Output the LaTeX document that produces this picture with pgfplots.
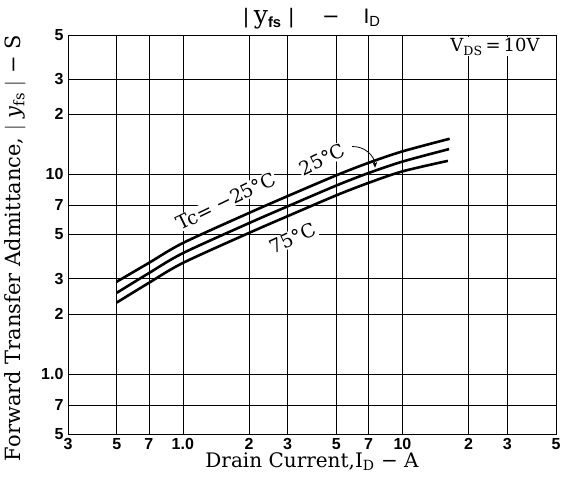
\documentclass[border=0pt]{standalone}
\usepackage{fontspec}
\setmainfont{DejaVu Serif}
\newfontfamily\tickfont{Liberation Sans}
\usepackage{pgfplots}
\pgfplotsset{compat=1.18}
\usetikzlibrary{arrows.meta}
\begin{document}
\begin{tikzpicture}
\useasboundingbox (0,0) rectangle (561pt,491pt);
\begin{axis}[
  at={(68pt,57pt)}, anchor=south west,
  scale only axis, width=488pt, height=399pt,
  xmode=log, ymode=log,
  xmin=0.3, xmax=50, ymin=0.5, ymax=50,
  xtick={0.3,0.5,0.7,1,2,3,5,7,10,20,30,50},
  xticklabels={3,5,7,1.0,2,3,5,7,10,2,3,5},
  ytick={0.5,0.7,1,2,3,5,7,10,20,30,50},
  yticklabels={5,7,1.0,2,3,5,7,10,2,3,5},
  major tick length=0pt,
  grid=major,
  major grid style={black, line width=0.6pt},
  axis line style={black, line width=0.8pt},
  ticklabel style={font=\tickfont\bfseries\fontsize{16}{16}\selectfont},
  xticklabel style={yshift=-1pt},
  yticklabel style={xshift=-1pt},
  xlabel={Drain Current,I\textsubscript{D} − A},
  xlabel style={font=\fontsize{20}{20}\selectfont, at={(axis description cs:0.5,0)}, anchor=center, yshift=-28pt},
  ylabel={Forward Transfer Admittance, $|$ \textit{y}\textsubscript{fs} $|$ − S},
  ylabel style={font=\fontsize{21}{21}\selectfont, at={(axis description cs:-0.1086,0.466)}, anchor=center},
  clip=false,
]
\node[fill=white, inner sep=1pt, rotate=26, font=\fontsize{19}{19}\selectfont] at (axis cs:1.57,7.35) {Tc= −25°C};
\node[fill=white, inner sep=1pt, rotate=26, font=\fontsize{19}{19}\selectfont] at (axis cs:4.3,11.9) {25°C};
\node[fill=white, inner sep=1pt, rotate=25, font=\fontsize{19}{19}\selectfont] at (axis cs:3.17,4.80) {75°C};
\node[fill=white, inner sep=1pt, font=\fontsize{18}{18}\selectfont] at (rel axis cs:0.875,0.970) {V\textsubscript{DS}\,=\,10V};
\node[font=\fontsize{21}{21}\selectfont, anchor=center] at (rel axis cs:0.5,1) [yshift=16pt] {{\tickfont|}\hspace{5pt}{\fontsize{25}{25}\selectfont y}\textsubscript{\tickfont\bfseries fs}\hspace{7pt}{\tickfont|}\hspace{28pt}−\hspace{24pt}{\tickfont I\textsubscript{D}}};
\addplot[black, line width=2.6pt, smooth] coordinates {
  (0.5,2.9) (0.7,3.6) (1,4.53) (2,6.41) (3,7.79) (5,9.9) (7,11.43) (10,13.05) (16.4,15.1)};
\addplot[black, line width=2.6pt, smooth] coordinates {
  (0.5,2.55) (0.7,3.2) (1,4.03) (2,5.7) (3,6.92) (5,8.8) (7,10.16) (10,11.6) (16.3,13.4)};
\addplot[black, line width=2.6pt, smooth] coordinates {
  (0.5,2.28) (0.7,2.86) (1,3.6) (2,5.09) (3,6.18) (5,7.86) (7,9.07) (10,10.36) (16.1,11.7)};
\draw[black, line width=0.8pt, -{Stealth[length=6pt,width=5pt]}] (axis cs:5.9,13.8) to[bend left=45] (axis cs:7.5,10.8);
\end{axis}
\end{tikzpicture}
\end{document}
